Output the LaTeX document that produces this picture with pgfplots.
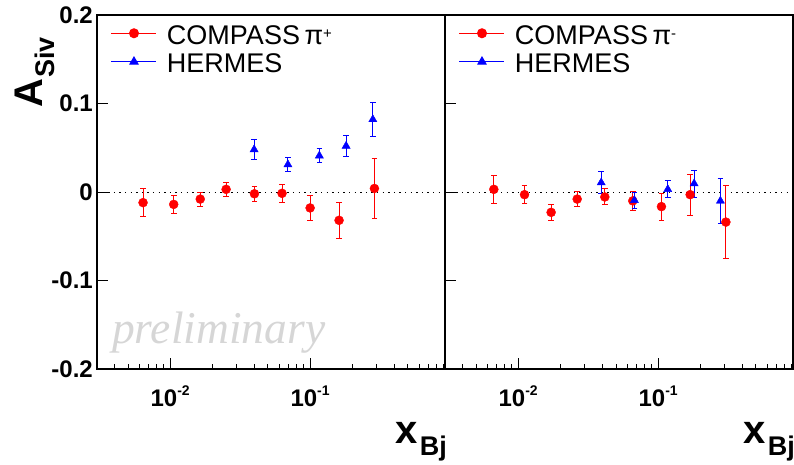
\documentclass[border=0pt]{standalone}
\usepackage{fontspec}
\setmainfont{Liberation Sans}
\newfontfamily\prelimfont{Liberation Serif}
\usepackage{pgfplots}
\pgfplotsset{compat=1.18}
\usepackage{pgfplotstable}
\usetikzlibrary{calc}

\pgfplotstableread{
x y e
0.0064 -0.012 0.0156
0.0106 -0.014 0.0100
0.0164 -0.008 0.0080
0.0251 0.003 0.0076
0.0400 -0.002 0.0084
0.0630 -0.0015 0.0103
0.1000 -0.018 0.0137
0.1610 -0.032 0.0205
0.2880 0.004 0.0344
}\cpp
\pgfplotstableread{
x y e
0.0398 0.048 0.0113
0.0694 0.031 0.0077
0.1164 0.041 0.0081
0.1808 0.052 0.0114
0.2806 0.082 0.0190
}\hpp
\pgfplotstableread{
x y e
0.0067 0.003 0.0161
0.0111 -0.003 0.0105
0.0172 -0.023 0.0090
0.0264 -0.008 0.0081
0.0416 -0.0056 0.0090
0.0659 -0.010 0.0109
0.1056 -0.0165 0.0152
0.1694 -0.003 0.0231
0.3050 -0.034 0.0411
}\cpm
\pgfplotstableread{
x y e
0.0392 0.0106 0.0126
0.0677 -0.0094 0.0090
0.1172 0.003 0.0096
0.1808 0.0095 0.0152
0.2786 -0.0101 0.0250
}\hpm

\pgfplotsset{
  legend image code/.code={\draw[mark repeat=2,mark phase=2,#1] plot coordinates {(0pt,1.5pt) (22.5pt,1.5pt) (45pt,1.5pt)};},
}

\begin{document}
\begin{tikzpicture}
\path[use as bounding box] (0,0) rectangle (794pt,464pt);

\begin{axis}[width=348pt, height=354pt, scale only axis, anchor=south west, at={(97pt,95pt)},
    xmode=log, xmin=0.003, xmax=0.92, ymin=-0.2, ymax=0.2,
    axis line style={line width=1.2pt},
    xtick={0.01,0.1},
    minor xtick={0.004,0.005,0.006,0.007,0.008,0.009,0.02,0.03,0.04,0.05,0.06,0.07,0.08,0.09,0.2,0.3,0.4,0.5,0.6,0.7,0.8,0.9},
    ytick={-0.2,-0.1,0,0.1,0.2},
    xtick pos=bottom, ytick pos=left, tick align=inside,
    major tick length=11pt, minor tick length=5.5pt,
    tick style={black, line width=1pt},
    tick label style={font=\bfseries\fontsize{24}{24}\selectfont},
    xticklabels={10\raisebox{11pt}{\fontsize{14}{14}\selectfont -2},10\raisebox{11pt}{\fontsize{14}{14}\selectfont -1}},
    xticklabel style={inner sep=0pt, anchor=north, yshift=-17pt},
    yticklabel style={inner sep=0pt, anchor=east, xshift=-4pt},
    yticklabels={-0.2,-0.1,0,0.1,0.2},
    clip=false,
    legend cell align=left,
    legend style={draw=none, fill=none, at={(0.0402,0.971)}, anchor=north west,
      inner sep=0pt, outer sep=0pt, row sep=9.5pt, column sep=10pt,
      font=\fontsize{27}{27}\selectfont,
      nodes={inner sep=0pt, text height=19pt, text depth=0pt}}]
  \draw[black, line width=0.9pt, dash pattern=on 1.4pt off 4.2pt] (rel axis cs:0,0.5) -- (rel axis cs:1,0.5);
  \addlegendimage{red, mark=*, mark size=4.5pt, line width=1pt}
  \addlegendentry{COMPASS\,π\raisebox{6pt}{\fontsize{15}{15}\selectfont +}}
  \addlegendimage{blue, mark=triangle*, mark size=4.7pt, line width=1pt}
  \addlegendentry{HERMES}
  \addplot[red, only marks, mark=*, mark size=4.5pt, forget plot,
    error bars/.cd, y dir=both, y explicit,
    error bar style={line width=1pt},
    error mark options={rotate=90, mark size=2.8pt, line width=1pt}] table[x=x, y=y, y error=e] {\cpp};
  \addplot[blue, only marks, mark=triangle*, mark size=4.7pt, forget plot,
    error bars/.cd, y dir=both, y explicit,
    error bar style={line width=1pt},
    error mark options={rotate=90, mark size=2.8pt, line width=1pt}] table[x=x, y=y, y error=e] {\hpp};
  \node[anchor=base west, inner sep=0pt, text=black!16, font=\prelimfont\itshape\fontsize{45.5}{45.5}\selectfont] at ($(rel axis cs:0,0)+(15pt,26pt)$) {preliminary};
  \node[anchor=base east, inner sep=0pt, font=\bfseries\fontsize{40}{40}\selectfont] at ($(rel axis cs:1,0)+(2pt,-74pt)$) {x\hspace{2pt}\raisebox{-12pt}{\fontsize{27}{27}\selectfont Bj}};
  \node[rotate=90, anchor=base east, inner sep=0pt, font=\bfseries\fontsize{40}{40}\selectfont] at ($(rel axis cs:0,0)+(-54pt,332pt)$) {A\hspace{1pt}\raisebox{-12pt}{\fontsize{27}{27}\selectfont Siv}};
\end{axis}

\begin{axis}[width=348pt, height=354pt, scale only axis, anchor=south west, at={(445pt,95pt)},
    xmode=log, xmin=0.003, xmax=0.92, ymin=-0.2, ymax=0.2,
    axis line style={line width=1.2pt},
    xtick={0.01,0.1},
    minor xtick={0.004,0.005,0.006,0.007,0.008,0.009,0.02,0.03,0.04,0.05,0.06,0.07,0.08,0.09,0.2,0.3,0.4,0.5,0.6,0.7,0.8,0.9},
    ytick={-0.2,-0.1,0,0.1,0.2},
    xtick pos=bottom, ytick pos=left, tick align=inside,
    major tick length=11pt, minor tick length=5.5pt,
    tick style={black, line width=1pt},
    tick label style={font=\bfseries\fontsize{24}{24}\selectfont},
    xticklabels={10\raisebox{11pt}{\fontsize{14}{14}\selectfont -2},10\raisebox{11pt}{\fontsize{14}{14}\selectfont -1}},
    xticklabel style={inner sep=0pt, anchor=north, yshift=-17pt},
    yticklabels={},
    clip=false,
    legend cell align=left,
    legend style={draw=none, fill=none, at={(0.0402,0.971)}, anchor=north west,
      inner sep=0pt, outer sep=0pt, row sep=9.5pt, column sep=10pt,
      font=\fontsize{27}{27}\selectfont,
      nodes={inner sep=0pt, text height=19pt, text depth=0pt}}]
  \draw[black, line width=0.9pt, dash pattern=on 1.4pt off 4.2pt] (rel axis cs:0,0.5) -- (rel axis cs:1,0.5);
  \addlegendimage{red, mark=*, mark size=4.5pt, line width=1pt}
  \addlegendentry{COMPASS\,π\raisebox{6pt}{\fontsize{15}{15}\selectfont -}}
  \addlegendimage{blue, mark=triangle*, mark size=4.7pt, line width=1pt}
  \addlegendentry{HERMES}
  \addplot[red, only marks, mark=*, mark size=4.5pt, forget plot,
    error bars/.cd, y dir=both, y explicit,
    error bar style={line width=1pt},
    error mark options={rotate=90, mark size=2.8pt, line width=1pt}] table[x=x, y=y, y error=e] {\cpm};
  \addplot[blue, only marks, mark=triangle*, mark size=4.7pt, forget plot,
    error bars/.cd, y dir=both, y explicit,
    error bar style={line width=1pt},
    error mark options={rotate=90, mark size=2.8pt, line width=1pt}] table[x=x, y=y, y error=e] {\hpm};
  \node[anchor=base east, inner sep=0pt, font=\bfseries\fontsize{40}{40}\selectfont] at ($(rel axis cs:1,0)+(2pt,-74pt)$) {x\hspace{2pt}\raisebox{-12pt}{\fontsize{27}{27}\selectfont Bj}};
\end{axis}
\end{tikzpicture}
\end{document}
